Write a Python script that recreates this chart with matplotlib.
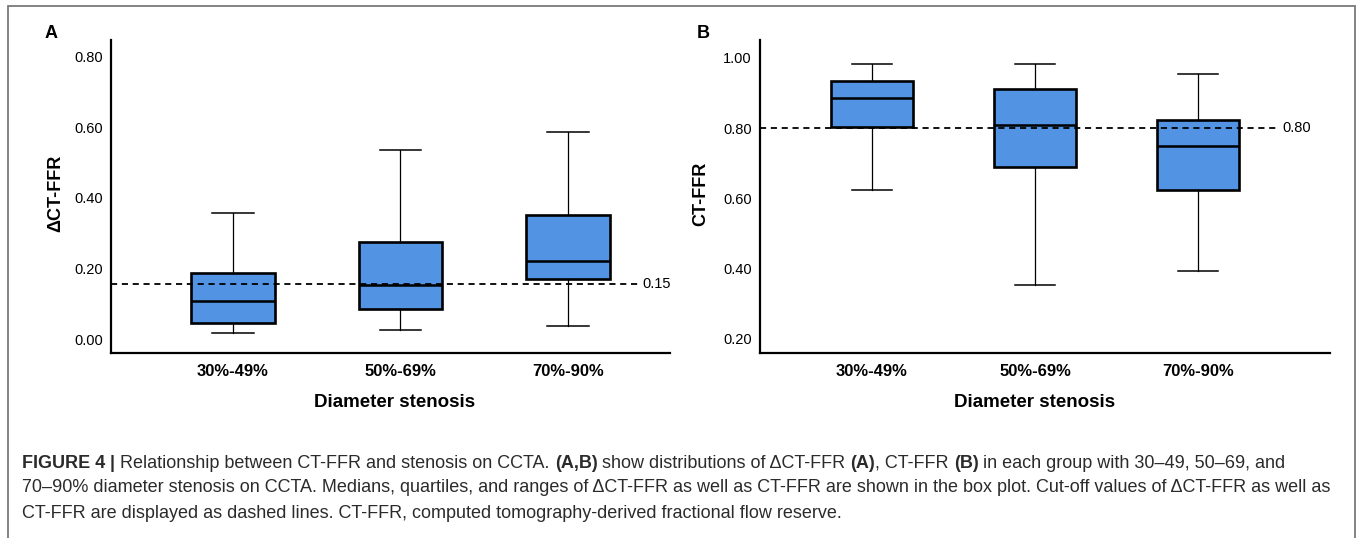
import matplotlib
matplotlib.use("Agg")
import matplotlib.pyplot as plt
from matplotlib.patches import Rectangle

plt.rcParams["font.family"] = ["Liberation Sans", "DejaVu Sans"]

# -----------------------------
# Data
# -----------------------------
groups = ["30%-49%", "50%-69%", "70%-90%"]

# Panel A: delta CT-FFR
a_low = [0.017, 0.026, 0.037]
a_q1 = [0.045, 0.085, 0.170]
a_med = [0.108, 0.153, 0.221]
a_q3 = [0.187, 0.275, 0.352]
a_high = [0.357, 0.536, 0.587]
a_cutoff = 0.155
a_cutoff_label = "0.15"
a_ticks = [0.0, 0.2, 0.4, 0.6, 0.8]

# Panel B: CT-FFR
b_low = [0.624, 0.354, 0.394]
b_q1 = [0.803, 0.690, 0.624]
b_med = [0.886, 0.809, 0.749]
b_q3 = [0.934, 0.912, 0.823]
b_high = [0.983, 0.983, 0.954]
b_cutoff = 0.80
b_cutoff_label = "0.80"
b_ticks = [0.2, 0.4, 0.6, 0.8, 1.0]

BOX_COLOR = "#5293E3"
W, H = 1357, 538

fig = plt.figure(figsize=(W / 100, H / 100), dpi=100)


def make_stats(low, q1, med, q3, high):
    return [
        {"whislo": lo, "q1": a, "med": m, "q3": b, "whishi": hi, "fliers": []}
        for lo, a, m, b, hi in zip(low, q1, med, q3, high)
    ]


def draw_panel(rect, stats, ticks, ylim, xlim, cutoff, cutoff_label, line_end,
               ylabel, ylabel_x, xlabel_x, letter, letter_x):
    ax = fig.add_axes(rect)
    ax.bxp(
        stats, positions=[1, 2, 3], widths=0.5, patch_artist=True,
        showfliers=False,
        boxprops=dict(facecolor=BOX_COLOR, edgecolor="black", linewidth=1.9),
        medianprops=dict(color="black", linewidth=1.8),
        whiskerprops=dict(color="black", linewidth=0.9),
        capprops=dict(color="black", linewidth=1.1),
        capwidths=0.25,
    )
    ax.set_xlim(*xlim)
    ax.set_ylim(*ylim)
    ax.plot([xlim[0], line_end], [cutoff, cutoff], color="black", lw=1.3,
            linestyle=(0, (3.4, 2.6)), zorder=5)
    ax.text(line_end + 0.015, cutoff, cutoff_label, fontsize=10.5,
            ha="left", va="center")

    ax.set_yticks(ticks)
    ax.set_yticklabels([f"{t:.2f}" for t in ticks], fontsize=10.5)
    ax.set_xticks([1, 2, 3])
    ax.set_xticklabels(groups, fontsize=12, fontweight="bold")
    ax.tick_params(axis="y", length=0, pad=6)
    ax.tick_params(axis="x", length=0, pad=8)
    for s in ["top", "right"]:
        ax.spines[s].set_visible(False)
    for s in ["left", "bottom"]:
        ax.spines[s].set_linewidth(1.6)

    ax.text(ylabel_x, 0.51, ylabel, transform=ax.transAxes, rotation=90,
            ha="center", va="center", fontsize=13, fontweight="bold")
    ax.text(xlabel_x, -0.157, "Diameter stenosis", transform=ax.transAxes,
            ha="center", va="center", fontsize=13.5, fontweight="bold")
    fig.text(letter_x / W, 1 - 33 / H, letter, ha="center", va="center",
             fontsize=13, fontweight="bold")
    return ax


draw_panel([111 / W, 185 / H, 559 / W, 313 / H],
           make_stats(a_low, a_q1, a_med, a_q3, a_high),
           a_ticks, (-0.0397, 0.848), (0.272, 3.609),
           a_cutoff, a_cutoff_label, 3.43,
           "\u0394CT-FFR", -0.099, 0.508, "A", 51)

draw_panel([760 / W, 185 / H, 570 / W, 313 / H],
           make_stats(b_low, b_q1, b_med, b_q3, b_high),
           b_ticks, (0.160, 1.051), (0.313, 3.81),
           b_cutoff, b_cutoff_label, 3.50,
           "CT-FFR", -0.1035, 0.481, "B", 703)

# frame around the figure
fig.add_artist(Rectangle((8 / W, -0.01), (1355 - 8) / W, 1.01 - 6 / H,
                         transform=fig.transFigure, fill=False,
                         edgecolor="#7a7a7a", linewidth=1.3))

# -----------------------------
# Caption (mixed bold / regular runs)
# -----------------------------
caption = [
    [("FIGURE 4", "bold"), (" | ", "bold"),
     ("Relationship between CT-FFR and stenosis on CCTA. ", "normal"),
     ("(A,B)", "bold"), (" show distributions of \u0394CT-FFR ", "normal"),
     ("(A)", "bold"), (", CT-FFR ", "normal"), ("(B)", "bold"),
     (" in each group with 30\u201349, 50\u201369, and", "normal")],
    [("70\u201390% diameter stenosis on CCTA. Medians, quartiles, and ranges of "
      "\u0394CT-FFR as well as CT-FFR are shown in the box plot. Cut-off values "
      "of \u0394CT-FFR as well as", "normal")],
    [("CT-FFR are displayed as dashed lines. CT-FFR, computed "
      "tomography-derived fractional flow reserve.", "normal")],
]
caption_y = [463, 488, 513]
cap_x0, cap_x1 = 22, 1333

renderer = fig.canvas.get_renderer()
probe = fig.text(0, 0, caption[1][0][0], fontsize=10)
cap_size = 10 * (cap_x1 - cap_x0) / probe.get_window_extent(renderer).width
probe.remove()

for runs, y in zip(caption, caption_y):
    x = cap_x0
    for s, w in runs:
        t = fig.text(x / W, 1 - y / H, s, fontsize=cap_size, fontweight=w,
                     color="#2b2b2b", ha="left", va="center")
        x += t.get_window_extent(renderer).width

fig.savefig("out.png", dpi=100)
